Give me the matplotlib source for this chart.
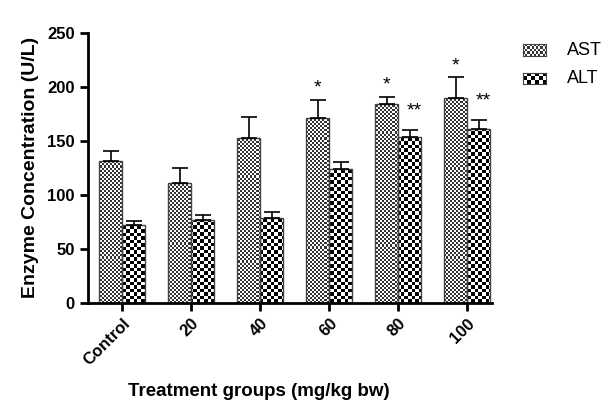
"""Grouped bar chart of AST / ALT enzyme levels with checker textures."""
import matplotlib
matplotlib.use("Agg")
import matplotlib.pyplot as plt
import numpy as np

groups = ["Control", "20", "40", "60", "80", "100"]
ast_mean = [131, 111, 153, 171, 184, 190]
ast_sem = [10, 14, 19, 17, 7, 19]
alt_mean = [72, 77, 79, 124, 154, 161]
alt_sem = [4, 4, 5, 6, 6, 8]
ast_marks = ["", "", "", "*", "*", "*"]
alt_marks = ["", "", "", "", "**", "**"]

plt.rcParams["font.family"] = ["Liberation Sans", "DejaVu Sans"]
plt.rcParams["font.weight"] = "bold"
plt.rcParams["axes.linewidth"] = 2


def checker_fill(ax, patch, cell_px, dark="black"):
    """Fill a bar patch with a pixel checkerboard clipped to the bar."""
    bbox = ax.get_window_extent()
    nx = max(int(bbox.width / cell_px), 1)
    ny = max(int(bbox.height / cell_px), 1)
    arr = np.indices((ny, nx)).sum(axis=0) % 2
    x0, x1 = ax.get_xlim()
    y0, y1 = ax.get_ylim()
    cmap = matplotlib.colors.ListedColormap(["white", dark])
    im = ax.imshow(arr, cmap=cmap, extent=(x0, x1, y0, y1), aspect="auto",
                   interpolation="nearest", origin="lower", zorder=1)
    im.set_clip_path(patch)
    ax.set_xlim(x0, x1)
    ax.set_ylim(y0, y1)


fig = plt.figure(figsize=(6.1, 4.12), dpi=100)
ax = fig.add_axes([0.144, 0.265, 0.663, 0.655])

x = np.arange(len(groups))
w = 1 / 3
ax.set_xlim(-0.5, 5.36)
ax.set_ylim(0, 250)

ast_bars = ax.bar(x - w / 2, ast_mean, w, facecolor="none",
                  edgecolor="#444444", linewidth=1, zorder=2)
alt_bars = ax.bar(x + w / 2, alt_mean, w, facecolor="none",
                  edgecolor="#444444", linewidth=1, zorder=2)
ax.errorbar(x - w / 2, ast_mean, yerr=[np.zeros(len(x)), ast_sem], fmt="none",
            ecolor="black", elinewidth=1.2, capsize=6, capthick=1.2, zorder=3)
ax.errorbar(x + w / 2, alt_mean, yerr=[np.zeros(len(x)), alt_sem], fmt="none",
            ecolor="black", elinewidth=1.2, capsize=6, capthick=1.2, zorder=3)

fig.canvas.draw()
for b in ast_bars:
    checker_fill(ax, b, 2, dark="#333333")
for b in alt_bars:
    checker_fill(ax, b, 3.5)

for i in range(len(groups)):
    if ast_marks[i]:
        ax.text(x[i] - w / 2, ast_mean[i] + ast_sem[i] + 3, ast_marks[i],
                ha="center", va="bottom", fontsize=14, fontweight="normal")
    if alt_marks[i]:
        ax.text(x[i] + w / 2 + 0.06, alt_mean[i] + alt_sem[i] + 10, alt_marks[i],
                ha="center", va="bottom", fontsize=14, fontweight="normal")

ax.spines["top"].set_visible(False)
ax.spines["right"].set_visible(False)
ax.set_yticks(np.arange(0, 251, 50))
ax.set_xticks(x)
ax.set_xticklabels(groups, rotation=45, ha="right", rotation_mode="anchor",
                   fontsize=11.5, fontweight="bold")
ax.tick_params(axis="both", width=2, length=6, labelsize=12)
for lab in ax.get_yticklabels():
    lab.set_fontweight("bold")
ax.set_ylabel("Enzyme Concentration (U/L)", fontsize=14, fontweight="bold",
              labelpad=6)
fig.text(0.425, 0.04, "Treatment groups (mg/kg bw)", ha="center",
         fontsize=13.5, fontweight="bold")

# legend swatches
for k, (name, cell, dark) in enumerate([("AST", 2, "#333333"), ("ALT", 3.5, "black")]):
    lax = fig.add_axes([0.857, 0.865 - k * 0.068, 0.038, 0.027])
    lax.set_xlim(0, 1)
    lax.set_ylim(0, 1)
    for s in lax.spines.values():
        s.set_linewidth(0.8)
        s.set_color("#444444")
    lax.set_xticks([])
    lax.set_yticks([])
    fig.canvas.draw()
    bb = lax.get_window_extent()
    arr = np.indices((max(int(bb.height / cell), 1), max(int(bb.width / cell), 1))).sum(axis=0) % 2
    lax.imshow(arr, cmap=matplotlib.colors.ListedColormap(["white", dark]),
               extent=(0, 1, 0, 1), aspect="auto", interpolation="nearest")
    fig.text(0.93, 0.878 - k * 0.068, name, va="center", fontsize=13,
             fontweight="normal")

fig.savefig("out.png", dpi=100)
